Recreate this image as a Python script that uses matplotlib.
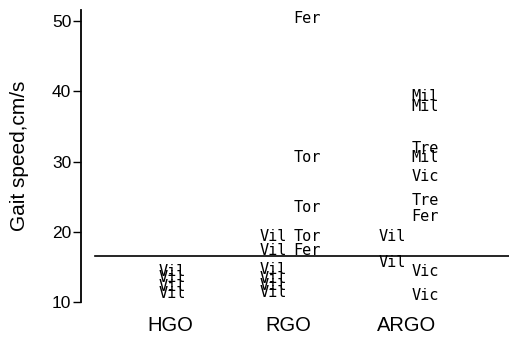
import matplotlib
matplotlib.use("Agg")
import matplotlib.pyplot as plt

# =========================
# Data (gait speed, cm/s)
# =========================
groups = ["HGO", "RGO", "ARGO"]

hgo_names = ["Vil", "Vil", "Vil", "Vil"]
hgo_speed = [14.4, 13.5, 12.2, 11.2]

rgo_names = ["Fer", "Tor", "Tor", "Vil", "Tor", "Vil", "Fer",
             "Vil", "Vil", "Vil", "Vil"]
rgo_speed = [50.4, 30.6, 23.5, 19.3, 19.3, 17.4, 17.4,
             14.6, 13.4, 12.4, 11.3]

argo_names = ["Mil", "Mil", "Tre", "Mil", "Vic", "Tre", "Fer",
              "Vil", "Vil", "Vic", "Vic"]
argo_speed = [39.2, 37.9, 31.9, 30.6, 27.8, 24.5, 22.2,
              19.3, 15.6, 14.3, 10.9]

ref_speed = 16.6

yticks = [10, 20, 30, 40, 50]

# =========================
# Layout
# =========================
W, H = 509, 338
fig = plt.figure(figsize=(W / 100, H / 100), dpi=100)
ax = fig.add_axes([81 / W, 36 / H, 428 / W, 292 / H])

ax.set_ylim(10, 10 + 292 / 7.025)
ax.set_xlim(-0.751, 2.861)

sans = "Liberation Sans"
mono = "DejaVu Sans Mono"

# left edge of the "Vil" column per group, the other names sit to the right
vil_offset = {"HGO": -0.10, "RGO": -0.245, "ARGO": -0.236}
other_offset = 0.04

data = {
    "HGO": (hgo_names, hgo_speed),
    "RGO": (rgo_names, rgo_speed),
    "ARGO": (argo_names, argo_speed),
}

for i, g in enumerate(groups):
    names, speeds = data[g]
    for nm, sp in zip(names, speeds):
        x = i + (vil_offset[g] if nm == "Vil" else other_offset)
        ax.text(x, sp, nm, ha="left", va="center", family=mono,
                fontsize=11, color="black", clip_on=False)

ax.axhline(ref_speed, xmin=14 / 428, xmax=1.0, color="black", lw=1.2)

# axes styling
for s in ["top", "right", "bottom"]:
    ax.spines[s].set_visible(False)
ax.spines["left"].set_linewidth(1.3)

ax.set_yticks(yticks)
ax.set_yticklabels([str(v) for v in yticks], family=sans, fontsize=12.5)
ax.tick_params(axis="y", length=6, width=1, pad=1)

ax.set_xticks(range(len(groups)))
ax.set_xticklabels(groups, family=sans, fontsize=14.5)
ax.tick_params(axis="x", length=0, pad=10)

ax.set_ylabel("Gait speed,cm/s", family=sans, fontsize=15)
ax.yaxis.set_label_coords(-0.122, 0.5)

fig.savefig("out.png", dpi=100)
